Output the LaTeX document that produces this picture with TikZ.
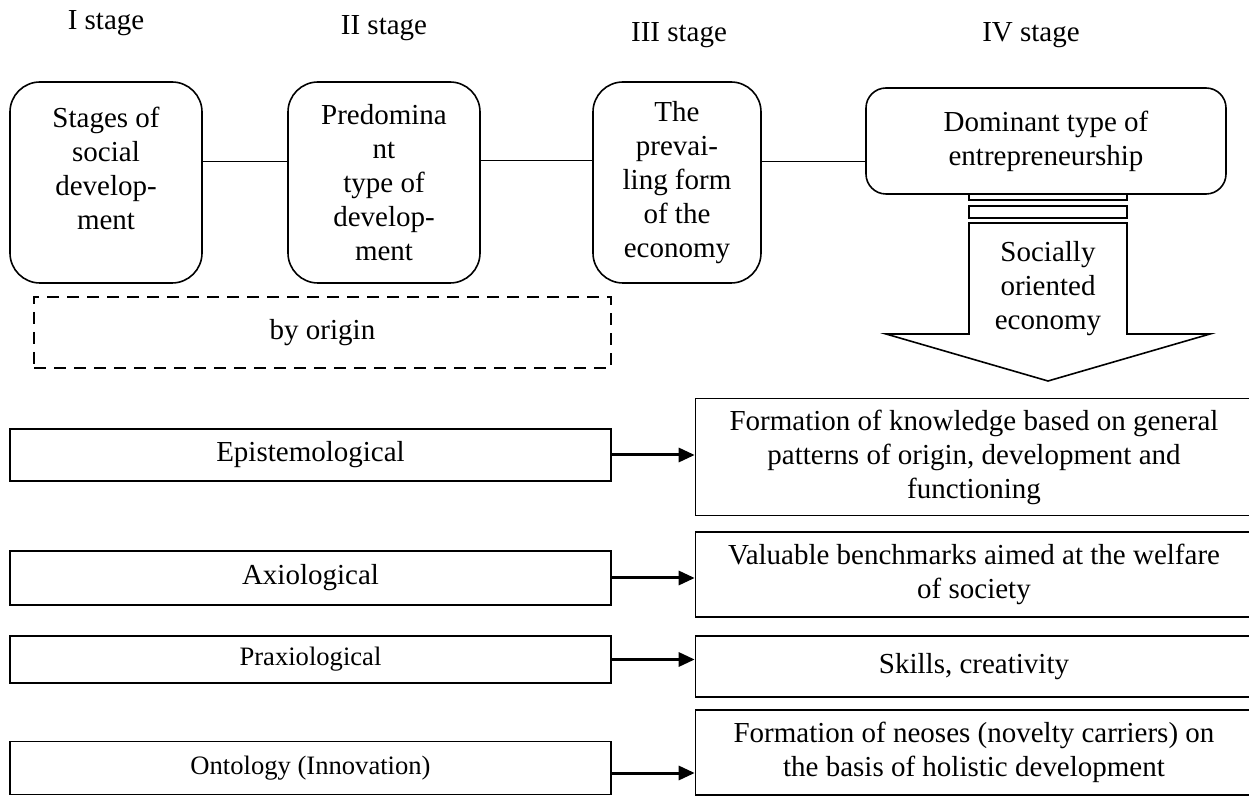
\documentclass[tikz,border=0pt]{standalone}
\usepackage{fontspec}
\setmainfont{Liberation Serif}
\usepackage{tikz}
\usetikzlibrary{positioning, arrows.meta, calc}

\begin{document}
\begin{tikzpicture}[x=0.5pt, y=-0.5pt, line width=0.8pt,
            font=\fontsize{14.5}{17}\selectfont,
            stagebox/.style={draw, rounded corners=15pt, align=center, minimum height=100.5pt, inner sep=2pt},
            levelbox/.style={draw, minimum width=300.5pt, align=center, inner sep=0pt},
            resultbox/.style={draw, minimum width=278.5pt, align=center, inner sep=0pt},
            small/.style={font=\fontsize{13.3}{16}\selectfont},
            link/.style={-{Triangle[length=8pt, width=7pt]}, line width=1.5pt}]

            \useasboundingbox (0,0) rectangle (1249,796);

            \node (lab1) at (106,23) {I stage};
            \node (lab2) at (384,28) {II stage};
            \node (lab3) at (679,35) {III stage};
            \node (lab4) at (1031,35) {IV stage};

            \node[stagebox, minimum width=96pt] (stage1) at (106,182.5) {Stages of\\ social\\ develop-\\ ment\\[-8pt] \strut};
            \node[stagebox, minimum width=96pt] (stage2) at (384,182.5) {Predomina\\ nt\\ type of\\ develop-\\ ment};
            \node[stagebox, minimum width=84pt] (stage3) at (677,182.5) {The\\ prevai-\\ ling form\\ of the\\ economy};
            \node[draw, rounded corners=10pt, align=center, minimum width=180pt, minimum height=53pt] (stage4) at (1046,141) {Dominant type of\\ entrepreneurship};

            \draw ([yshift=10.5pt]stage1.east) -- ([yshift=10.5pt]stage2.west);
            \draw ([yshift=11pt]stage2.east) -- ([yshift=11pt]stage3.west);
            \draw ([yshift=10.5pt]stage3.east) -- ([yshift=10.5pt]stage3.east -| stage4.west);

            \draw (969,194) rectangle (1127,200);
            \draw (969,206) rectangle (1127,218);
            \draw (969,223) -- (969,334) -- (886,334) -- (1048,381) -- (1210,334) -- (1127,334) -- (1127,223) -- cycle;
            \node[align=center] (social) at (1048,289) {Socially\\ oriented\\ economy};

            \node[draw, dash pattern=on 6pt off 4pt, minimum width=288.5pt, minimum height=35.5pt] (origin) at (322.5,332.5) {by origin};

            \node[levelbox, minimum height=26pt] (epi) at (310.5,455) {Epistemological};
            \node[levelbox, minimum height=27pt] (axi) at (310.5,578) {Axiological};
            \node[levelbox, small, minimum height=23.5pt] (pra) at (310.5,659.5) {Praxiological};
            \node[levelbox, small, minimum height=26.5pt] (ont) at (310.5,768) {Ontology (Innovation)};

            \node[resultbox, minimum height=58.5pt] (res1) at (974,457) {Formation of knowledge based on general\\ patterns of origin, development and\\ functioning};
            \node[resultbox, minimum height=42.5pt] (res2) at (974,574.5) {Valuable benchmarks aimed at the welfare\\ of society};
            \node[resultbox, minimum height=30.5pt] (res3) at (974,666.5) {Skills, creativity};
            \node[resultbox, minimum height=42.5pt] (res4) at (974,752.5) {Formation of neoses (novelty carriers) on\\ the basis of holistic development};

            \draw[link] (epi) -- (epi -| res1.west);
            \draw[link] (axi) -- (axi -| res2.west);
            \draw[link] (pra) -- (pra -| res3.west);
            \draw[link] ([yshift=-2.5pt]ont.east) -- ([yshift=-2.5pt]ont.east -| res4.west);
        \end{tikzpicture}
\end{document}
